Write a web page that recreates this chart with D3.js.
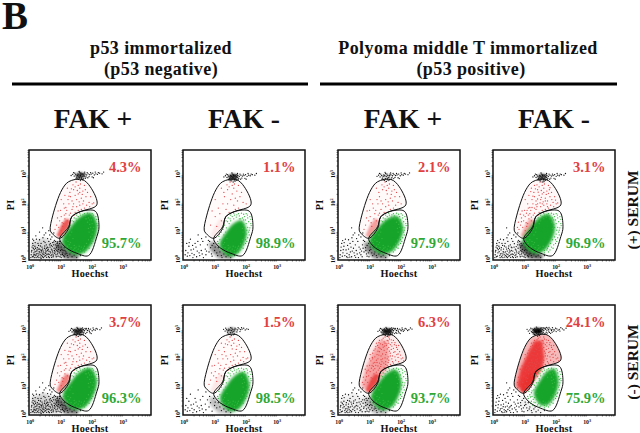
<!DOCTYPE html>
<html><head><meta charset="utf-8">
<script src="https://cdn.jsdelivr.net/npm/d3@7"></script>
<style>html,body{margin:0;padding:0;background:#fff}svg{display:block}text{font-family:"Liberation Serif",serif;font-weight:bold;fill:#111}</style>
</head><body><svg id="c" width="640" height="433"></svg>
<script>
// ---------- text ----------
const groupTitles = [["p53 immortalized","(p53 negative)"],["Polyoma middle T immortalized","(p53 positive)"]];
const columnTitles = ["FAK +","FAK -","FAK +","FAK -"];
const rowTitles = ["(+) SERUM","(-) SERUM"];
const redPercent = ["4.3%","1.1%","2.1%","3.1%","3.7%","1.5%","6.3%","24.1%"];
const greenPercent = ["95.7%","98.9%","97.9%","96.9%","96.3%","98.5%","93.7%","75.9%"];
// ---------- axes (decades, log10) ----------
const decades = [0,1,2,3];
const minorFactors = [2,3,4,5,6,7,8,9];
// ---------- gates, log10(Hoechst), log10(PI) ----------
const redGate = [[.645,1.02],[.73,1.55],[1.02,2.44],[1.24,2.73],[1.67,2.81],[1.94,2.55],[2.15,1.91],[1.61,1.67],[1.34,1.49],[1.24,1.08],[.95,.73],[.70,.91]];
const greenGate = [[.95,.73],[1.24,1.14],[1.34,1.49],[1.61,1.67],[2.10,1.69],[2.22,1.14],[2.15,.79],[1.88,.12],[1.51,.2],[1.18,.38],[1.02,.55]];
// density regions
const greenCoreShape = [[-.95,-.35],[-.5,.35],[.05,.85],[.6,1],[.95,.4],[.7,-.4],[.2,-.9],[-.4,-.95]];
const redStrip = [[.85,.82],[.98,.75],[1.24,1.12],[1.3,1.38],[1.15,1.42],[1.0,1.2]];
const redBody = [[.72,1.0],[.95,.78],[1.3,1.2],[1.55,1.6],[1.62,2.0],[1.55,2.6],[1.3,2.6],[1.1,2.2],[.85,1.6]];
const debrisBand = [[.8,.58],[1.0,.6],[1.22,.32],[1.6,.12],[1.5,.0],[1.1,.03],[.85,.3]];
const debrisCloud = [[.02,.02],[.95,.02],[.85,.55],[.45,.75],[.05,.6]];
// ---------- per panel estimates ----------
const greenCx = [1.60,1.58,1.52,1.44,1.60,1.63,1.52,1.68];
const greenCy = [.88,.72,.84,.88,.88,.78,.84,.94];
const greenSx = [.60,.46,.58,.55,.58,.50,.52,.42];
const greenSy = [.74,.64,.68,.70,.74,.70,.72,.66];
const topCx = [1.62,1.58,1.52,1.55,1.55,1.52,1.55,1.40];
const topCy = [2.95,2.90,2.92,2.90,2.92,2.95,2.92,2.93];
const topBlob = [.6,.75,.15,.6,.8,.35,.9,1];
const topCount = [55,55,50,55,60,35,70,80];
const redCount = [70,35,55,95,70,60,130,130];
const redStripLevel = [.8,.08,.45,.4,.6,.1,.8,.95];
const redBodyLevel = [0,0,0,0,0,0,.4,.92];
const pinkLevel = [.06,.03,.04,.06,.06,.03,.16,.6];
const debrisCount = [160,55,80,130,160,45,110,85];
const debrisCloudLevel = [.16,0,.02,.03,.18,0,.06,0];
const debrisBandLevel = [.6,.45,.5,.7,.6,.25,.3,.05];
const greenHaloCount = [90,90,90,90,90,90,90,110];
// ---------- single events ----------
const redEvents = [[1.45,2.55],[1.6,2.5],[1.55,2.6],[1.7,2.4],[1.3,2.2],[1.5,2.1],[1.8,2.2],[1.1,1.8],[1.35,1.75],[1.6,1.9],[1.9,2.0],[1.0,1.5],[1.2,1.35],[1.45,1.65],[1.75,1.8],[.85,1.2],[1.05,1.15],[1.25,1.95],[1.65,2.15],[1.4,2.45],
[1.75,2.6],[1.2,2.5],[1.55,2.3],[1.85,2.35],[1.0,2.1],[.9,1.7],[1.15,1.6],[1.4,1.95],[1.65,1.75],[2.0,1.95],[1.28,2.35],[1.62,2.65],[1.48,2.72],[1.38,2.62],[1.72,2.05],[1.95,2.2],[1.08,1.95],[.95,1.35],[.8,1.05],[1.12,1.42],
[1.5,1.85],[1.35,2.05],[1.22,2.1],[1.58,2.02],[1.82,1.9],[1.42,1.55],[1.3,1.62],[.98,1.72],[.88,1.45],[1.03,1.28],[1.18,1.72],[1.26,1.55],[1.68,2.28],[1.78,2.45],[1.52,2.42],[1.33,2.48],[1.12,2.25],[1.92,1.85],[2.05,1.98],[1.55,1.72],
[1.45,2.25],[1.38,1.85],[1.6,2.35],[1.25,2.22],[1.7,1.95],[1.1,1.55],[.92,1.12],[1.0,1.0],[1.08,1.25],[1.15,1.82],[.78,1.3],[.84,1.58],[1.04,1.62],[1.2,1.48],[1.3,1.8],[1.48,1.98],[1.86,2.1],[1.98,2.08],[1.75,2.32],[1.42,2.36],
[1.18,2.38],[1.3,2.6],[1.6,2.72],[1.8,2.52],[1.52,2.18],[1.65,2.05],[1.35,1.92],[1.22,1.82],[1.06,1.72],[.95,1.55],[.88,1.32],[.75,1.12],[1.4,2.12],[1.55,1.95],[1.72,1.85],[1.88,2.28],[1.65,2.45],[1.48,2.5],[1.28,2.08],[1.15,2.02],
[1.02,1.88],[1.1,1.68],[1.34,1.68],[1.5,1.75],[1.8,2.02],[2.08,1.88],[1.92,2.42],[1.58,2.58],[1.42,2.68],[1.24,2.42],[1.36,2.28],[1.7,2.52],[1.44,1.8],[1.58,1.82],[1.2,1.9],[1.07,2.0],[.98,1.95],[.9,1.52],[1.25,1.7],[1.62,2.22],
[1.76,2.18],[1.9,2.12],[1.46,2.4],[1.32,2.32],[1.54,2.48],[1.68,2.62],[1.84,2.42],[1.08,2.15],[1.16,2.3],[1.28,2.52]];
const greenEvents = [[1.1,.55],[1.25,.3],[1.5,.28],[1.75,.25],[1.9,.38],[2.05,.75],[2.12,1.1],[2.15,1.4],[2.0,1.6],[1.75,1.6],[1.5,1.55],[1.35,1.35],[1.25,1.05],[1.12,.8],[1.98,.55],[2.08,.95],[1.95,1.5],[1.85,.42],[1.62,.22],[1.4,.32],
[1.2,.45],[1.15,.68],[1.2,.95],[1.3,1.2],[1.42,1.45],[1.6,1.62],[1.85,1.62],[2.05,1.45],[2.15,1.25],[2.1,.85],[2.02,.62],[1.92,.5],[1.7,.32],[1.55,.35],[1.32,.4],[1.22,.62],[1.28,.85],[1.36,1.1],[1.5,1.35],[1.68,1.48],
[1.88,1.45],[2.0,1.25],[2.02,1.02],[1.95,.78],[1.82,.55],[1.65,.42],[1.42,.48],[1.3,.58],[1.78,1.52],[1.92,1.58],[1.45,1.25],[1.38,.72],[1.9,.95],[1.95,1.12],[1.85,1.3],[1.6,1.42],[1.75,.45],[1.58,.45],[1.48,.42],[1.98,1.38],
[2.08,1.32],[2.12,1.5],[2.05,1.12],[2.0,.88],[1.88,.68],[1.72,.38],[1.35,.28],[1.18,.38],[1.08,.62],[1.14,.88],[1.24,1.12],[1.4,1.32],[1.55,1.5],[1.7,1.56],[1.82,1.42],[1.92,1.22],[1.98,.68],[2.1,1.02],[2.16,1.18],[1.62,.3],
[1.8,.32],[1.44,.38],[1.26,.52],[1.34,.95],[1.48,1.42],[1.62,1.55],[1.78,1.42],[1.92,1.38],[2.04,1.55],[1.88,1.08],[1.83,.6],[1.52,.36],[1.38,.52],[1.2,.75],[1.3,1.02],[1.46,1.2],[1.66,1.36],[1.94,1.48],[2.1,1.22],[2.03,.72],
[1.9,.6],[1.68,.28],[1.45,.25],[1.28,.42],[1.17,.6],[1.22,.82],[1.42,1.1],[1.58,1.3],[1.72,1.3],[1.86,1.18]];
const debrisEvents = [[.1,.1],[.25,.2],[.4,.08],[.55,.3],[.7,.15],[.85,.4],[.15,.45],[.35,.55],[.6,.62],[.9,.1],[1.05,.22],[1.2,.12],[.05,.3],[.3,.35],[.5,.12],[.75,.5],[.95,.55],[.2,.7],[.45,.85],[.7,.78],
[1.1,.4],[1.35,.08],[1.5,.05],[1.62,.12],[.12,.22],[.28,.05],[.42,.28],[.62,.05],[.8,.25],[.98,.3],[.08,.55],[.22,.32],[.38,.42],[.52,.5],[.68,.35],[.82,.62],[1.0,.42],[1.15,.25],[1.28,.18],[1.42,.14],
[.03,.15],[.18,.12],[.32,.15],[.48,.22],[.58,.18],[.72,.28],[.88,.18],[.16,.58],[.27,.48],[.44,.62],[.56,.72],[.78,.66],[.9,.48],[1.08,.12],[1.22,.05],[.06,.42],[.36,.25],[.64,.42],[.74,.08],[.94,.22],
[.02,.05],[.13,.33],[.24,.08],[.34,.07],[.46,.38],[.53,.06],[.66,.22],[.77,.38],[.86,.3],[.96,.08],[1.02,.34],[1.13,.18],[1.32,.25],[.11,.65],[.3,.68],[.41,.75],[.5,.92],[.63,.85],[.76,.92],[.4,1.1],
[.2,.18],[.29,.26],[.37,.12],[.44,.16],[.51,.26],[.6,.28],[.67,.12],[.79,.2],[.84,.08],[.91,.34],[.07,.08],[.16,.26],[.23,.4],[.33,.46],[.4,.35],[.47,.46],[.57,.4],[.65,.54],[.71,.44],[.81,.5],
[.87,.55],[.99,.15],[1.06,.3],[1.18,.2],[1.26,.3],[.04,.25],[.1,.38],[.19,.05],[.26,.14],[.31,.22],[.43,.05],[.49,.32],[.54,.16],[.59,.08],[.69,.06],[.73,.22],[.83,.15],[.89,.26],[1.0,.05],[1.1,.08],
[.09,.48],[.17,.38],[.25,.55],[.39,.18],[.47,.1],[.55,.42],[.61,.16],[.7,.32],[.76,.6],[.86,.46],[.15,.15],[.21,.28],[.34,.32],[.42,.22],[.58,.34],[.64,.26],[.75,.14],[.92,.42],[1.04,.16],[.13,.05],
[.27,.35],[.35,.02],[.5,.2],[.62,.5],[.72,.58],[.82,.35],[.94,.62],[.08,.7],[.18,.82],[.6,1.0],[.3,.95],[.48,.58],[.66,.7],[.12,.15],[.37,.3],[.52,.38],[.68,.48],[.78,.3],[.88,.6],[1.12,.3]];
const topEvents = [[0,0],[.05,.03],[-.05,.02],[.03,-.06],[-.03,-.08],[.1,.02],[-.1,.0],[.08,-.04],[-.08,.05],[.15,.05],[-.15,.03],[.02,.08],[-.02,.1],[.2,.02],[-.2,-.02],[.12,.08],[-.12,-.06],[.25,.06],[.3,.03],[-.25,.04],
[.18,-.05],[.35,.05],[.4,.08],[-.06,-.14],[.06,-.15],[.0,-.18],[.1,-.12],[-.1,-.12],[.45,.02],[.5,.06],[.22,.1],[-.18,.08],[.28,-.04],[.55,.04],[.33,.1],[.14,.12],[-.04,.14],[.62,.08],[.7,.06],[.38,-.05],
[.04,-.1],[-.14,-.1],[.16,-.1],[.24,-.08],[-.22,.1],[.48,.12],[.75,.12],[.58,.1],[-.3,.0],[.42,-.08],[.01,.05],[-.01,-.03],[.07,.06],[-.07,-.05],[.13,-.02],[-.13,.06],[.17,.07],[.09,.1],[.26,.1],[.36,.0],
[.02,-.13],[-.09,.09],[.11,-.08],[.19,.11],[-.17,-.05],[.31,-.07],[.44,.05],[.52,.0],[.66,.03],[.8,.08],[.85,.04],[.92,.1],[-.34,.06],[-.26,-.08],[.21,-.12],[.29,.13],[.37,.13],[.47,-.04],[.6,-.02],[.72,.0]];
// ---------- layout ----------
const frameLeft = [29,183,338,493];
const frameTop = [150,305];
const frameW = 122, frameH = 110;
const svg = d3.select("#c");
const defs = svg.append("defs");
defs.append("filter").attr("id","soft").attr("x","-30%").attr("y","-30%").attr("width","160%").attr("height","160%").append("feGaussianBlur").attr("stdDeviation",1.6);
defs.append("filter").attr("id","softer").attr("x","-30%").attr("y","-30%").attr("width","160%").attr("height","160%").append("feGaussianBlur").attr("stdDeviation",.9);
defs.append("filter").attr("id","dot").append("feGaussianBlur").attr("stdDeviation",.25);

// headings
svg.append("text").attr("x",2).attr("y",29).attr("font-size",39).text("B");
const groupCx = [[161,161],[468,471]];
groupTitles.forEach((g,i)=>g.forEach((t,j)=>svg.append("text").attr("x",groupCx[i][j]).attr("y",j?75:54).attr("text-anchor","middle").attr("font-size",18).style("letter-spacing","0.4px").text(t)));
svg.selectAll("line.rule").data([[12,308],[320,617]]).join("line").attr("class","rule").attr("x1",d=>d[0]).attr("x2",d=>d[1]).attr("y1",84).attr("y2",84).attr("stroke","#000").attr("stroke-width",3);
const columnCx = [93,244,403,554];
columnTitles.forEach((t,i)=>svg.append("text").attr("x",columnCx[i]).attr("y",128).attr("text-anchor","middle").attr("font-size",27.5).text(t));
rowTitles.forEach((t,i)=>svg.append("text").attr("transform",`translate(638,${i?362:210}) rotate(-90)`).attr("text-anchor","middle").attr("font-size",15.5).text(t));

const x = d3.scaleLinear().domain([-.04,3.9]).range([0,frameW]);
const y = d3.scaleLinear().domain([-.035,3.85]).range([frameH,0]);
const line = d3.line().x(d=>x(d[0])).y(d=>y(d[1])).curve(d3.curveCatmullRomClosed.alpha(.5));
const sharp = d3.line().x(d=>x(d[0])).y(d=>y(d[1])).curve(d3.curveLinearClosed);

const minorX = decades.flatMap(k=>minorFactors.map(m=>k+Math.log10(m))).filter(v=>v<3.9);

function panel(i){
  const col=i%4,row=Math.floor(i/4);
  const g=svg.append("g").attr("transform",`translate(${frameLeft[col]},${frameTop[row]})`);
  const clipId="clip"+i;
  defs.append("clipPath").attr("id",clipId).append("rect").attr("width",frameW).attr("height",frameH);
  const plot=g.append("g").attr("clip-path",`url(#${clipId})`);
  const dots=(sel,data,color,mapper)=>sel.append("g").attr("filter","url(#dot)").selectAll("circle").data(data).join("circle")
     .attr("cx",d=>x(mapper?mapper(d)[0]:d[0])).attr("cy",d=>y(mapper?mapper(d)[1]:d[1])).attr("r",.65).attr("fill",color);
  // debris
  plot.append("path").attr("d",sharp(debrisCloud)).attr("fill","#111").attr("opacity",debrisCloudLevel[i]).attr("filter","url(#soft)");
  plot.append("path").attr("d",sharp(debrisBand)).attr("fill","#111").attr("opacity",debrisBandLevel[i]).attr("filter","url(#soft)");
  dots(plot,debrisEvents.slice(0,debrisCount[i]),"#111");
  // red population
  plot.append("path").attr("d",line(redGate)).attr("fill","#f08a8a").attr("opacity",pinkLevel[i]);
  plot.append("path").attr("d",sharp(redBody)).attr("fill","#ec2f2f").attr("opacity",redBodyLevel[i]).attr("filter","url(#soft)");
  plot.append("path").attr("d",sharp(redStrip)).attr("fill","#e8302f").attr("opacity",redStripLevel[i]).attr("filter","url(#softer)");
  dots(plot,redEvents.slice(0,redCount[i]),"#e2484a");
  // green population
  const gc=greenCoreShape.map(p=>[greenCx[i]+p[0]*greenSx[i],greenCy[i]+p[1]*greenSy[i]]);
  plot.append("path").attr("d",line(gc)).attr("fill","#17a52c").attr("filter","url(#soft)");
  dots(plot,greenEvents.slice(0,greenHaloCount[i]),"#35b83f");
  // top cluster
  plot.append("ellipse").attr("cx",x(topCx[i])).attr("cy",y(topCy[i])).attr("rx",5).attr("ry",3.2).attr("fill","#000").attr("opacity",topBlob[i]).attr("filter","url(#softer)");
  dots(plot,topEvents.slice(0,topCount[i]),"#111",d=>[topCx[i]+d[0],topCy[i]+d[1]]);
  // gates
  [redGate,greenGate].forEach(p=>plot.append("path").attr("d",line(p)).attr("fill","none").attr("stroke","#111").attr("stroke-width",1));
  // axes
  const ax=g.append("g").attr("transform",`translate(0,${frameH})`);
  ax.call(d3.axisBottom(x).tickValues(minorX).tickSize(1.5).tickFormat(""));
  const ay=g.append("g");
  ay.call(d3.axisLeft(y).tickValues(minorX).tickSize(1.5).tickFormat(""));
  [ax,ay].forEach(a=>{a.select(".domain").remove();a.selectAll("line").attr("stroke","#111").attr("stroke-width",.6);});
  decades.forEach(k=>{
    const tx=g.append("text").attr("x",x(k)).attr("y",frameH+8.5).attr("text-anchor","middle").attr("font-size",5.8);
    tx.append("tspan").text("10");tx.append("tspan").attr("dy",-1.8).attr("font-size",4.2).text(k);
    const ty=g.append("text").attr("transform",`translate(-3.5,${y(k)}) rotate(-90)`).attr("text-anchor","middle").attr("font-size",5.8);
    ty.append("tspan").text("10");ty.append("tspan").attr("dy",-1.8).attr("font-size",4.2).text(k);
  });
  g.append("rect").attr("width",frameW).attr("height",frameH).attr("fill","none").attr("stroke","#111").attr("stroke-width",1.5);
  g.append("text").attr("x",frameW/2).attr("y",frameH+17).attr("text-anchor","middle").attr("font-size",10.3).style("letter-spacing",".2px").text("Hoechst");
  g.append("text").attr("transform",`translate(-15.5,${frameH/2}) rotate(-90)`).attr("text-anchor","middle").attr("font-size",10.3).text("PI");
  g.append("text").attr("x",frameW-9.5).attr("y",22).attr("text-anchor","end").attr("font-size",14.5).style("fill","#e2403f").text(redPercent[i]);
  g.append("text").attr("x",frameW-9.5).attr("y",frameH-12).attr("text-anchor","end").attr("font-size",14.5).style("fill","#2fa836").text(greenPercent[i]);
}
d3.range(8).forEach(panel);
</script></body></html>
